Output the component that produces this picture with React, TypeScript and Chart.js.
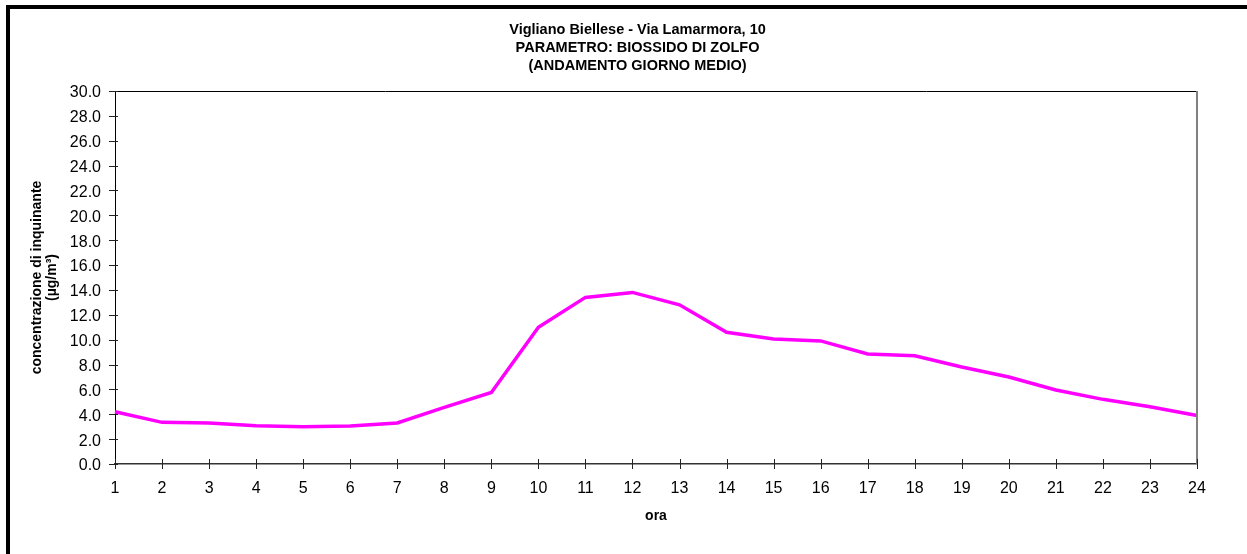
import React, { useEffect, useRef } from "react";
import { Chart, registerables } from "chart.js";

Chart.register(...registerables);

const hours = ["1","2","3","4","5","6","7","8","9","10","11","12","13","14","15","16","17","18","19","20","21","22","23","24"];
const so2Values = [4.2, 3.35, 3.3, 3.08, 3.0, 3.05, 3.3, 4.55, 5.75, 11.0, 13.4, 13.8, 12.8, 10.6, 10.05, 9.9, 8.85, 8.7, 7.8, 7.0, 5.95, 5.2, 4.6, 3.9];
const titleLines = ["Vigliano Biellese - Via Lamarmora, 10", "PARAMETRO: BIOSSIDO DI ZOLFO", "(ANDAMENTO GIORNO MEDIO)"];
const yTitleLines = ["concentrazione di inquinante", "(µg/m³)"];
const xTitle = "ora";
const yMin = 0;
const yMax = 30;
const yStep = 2;

const FONT = "'Liberation Sans', Arial, sans-serif";

const decorPlugin = {
  id: "decor",
  afterDraw(chart: any) {
    const { ctx, chartArea, scales } = chart;
    const { left, right, top, bottom } = chartArea;
    ctx.save();
    // plot area top & right border
    ctx.strokeStyle = "#000";
    ctx.lineWidth = 1;
    ctx.beginPath();
    ctx.moveTo(left, top + 0.5);
    ctx.lineTo(right, top + 0.5);
    ctx.stroke();
    ctx.strokeStyle = "#808080";
    ctx.lineWidth = 2;
    ctx.beginPath();
    ctx.moveTo(right, top);
    ctx.lineTo(right, bottom);
    ctx.stroke();
    // crossing tick marks
    ctx.strokeStyle = "#222";
    ctx.lineWidth = 1;
    const ys = scales.y;
    ys.ticks.forEach((t: any) => {
      const py = Math.round(ys.getPixelForValue(t.value)) + 0.5;
      ctx.beginPath();
      ctx.moveTo(left - 6, py);
      ctx.lineTo(left + 3, py);
      ctx.stroke();
    });
    const xs = scales.x;
    xs.ticks.forEach((_t: any, i: number) => {
      const px = Math.round(xs.getPixelForTick(i)) + 0.5;
      ctx.beginPath();
      ctx.moveTo(px, bottom - 5);
      ctx.lineTo(px, bottom + 5);
      ctx.stroke();
    });
    // chart title
    ctx.fillStyle = "#000";
    ctx.font = `bold 14.5px ${FONT}`;
    ctx.textAlign = "center";
    ctx.textBaseline = "middle";
    const cx = chart.width / 2 + 14;
    titleLines.forEach((line, i) => {
      ctx.fillText(line, cx, 30 + i * 18.2);
    });
    ctx.restore();
  },
};

export default function App() {
  const canvasRef = useRef<HTMLCanvasElement | null>(null);

  useEffect(() => {
    if (!canvasRef.current) return;
    const chart = new Chart(canvasRef.current, {
      type: "line",
      data: {
        labels: hours,
        datasets: [
          {
            data: so2Values,
            borderColor: "#FF00FF",
            backgroundColor: "#FF00FF",
            borderWidth: 3.5,
            pointRadius: 0,
            tension: 0,
            fill: false,
          },
        ],
      },
      options: {
        responsive: false,
        animation: false,
        devicePixelRatio: 1,
        layout: { padding: { left: 0, right: 50, top: 91, bottom: 0 } },
        plugins: {
          legend: { display: false },
          tooltip: { enabled: false },
          title: { display: false },
        },
        scales: {
          x: {
            offset: false,
            grid: { display: false, drawTicks: false },
            border: { display: true, color: "#333", width: 1.5 },
            ticks: {
              color: "#000",
              font: { family: FONT, size: 16 },
              padding: 15,
              maxRotation: 0,
              autoSkip: false,
            },
            title: {
              display: true,
              text: xTitle,
              color: "#000",
              font: { family: FONT, size: 14, weight: "bold" },
              padding: { top: 0, bottom: 29 },
            },
            afterFit: (s: any) => {
              s.height = 90;
            },
          },
          y: {
            min: yMin,
            max: yMax,
            grid: { display: false, drawTicks: false },
            border: { display: true, color: "#000", width: 1 },
            ticks: {
              stepSize: yStep,
              color: "#000",
              font: { family: FONT, size: 16 },
              padding: 14,
              labelOffset: 2,
              callback: (v: any) => Number(v).toFixed(1),
            },
            title: {
              display: true,
              text: yTitleLines,
              color: "#000",
              font: { family: FONT, size: 14, weight: "bold", lineHeight: 1.07 },
              padding: { top: 30, bottom: 0 },
            },
            afterFit: (s: any) => {
              s.width = 115;
            },
          },
        },
      },
      plugins: [decorPlugin],
    });
    return () => chart.destroy();
  }, []);

  return (
    <div style={{ position: "absolute", left: 0, top: 0, width: 1247, height: 554, overflow: "hidden", background: "#fff" }}>
      <div
        style={{
          position: "absolute",
          left: 6,
          top: 5,
          width: 1400,
          height: 700,
          borderTop: "4px solid #000",
          borderLeft: "4px solid #000",
        }}
      />
      <canvas ref={canvasRef} width={1247} height={554} style={{ position: "absolute", left: 0, top: 0, width: 1247, height: 554 }} />
    </div>
  );
}
